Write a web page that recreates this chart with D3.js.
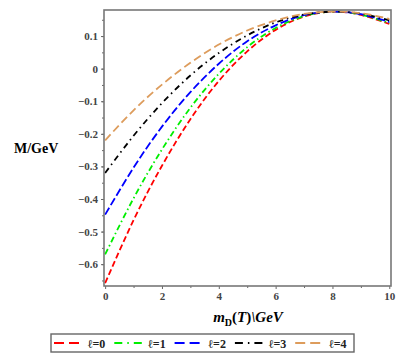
<!DOCTYPE html>
<html>
<head>
<meta charset="utf-8">
<style>
body { margin: 0; background: #fff; }
svg { display: block; }
.tick text { font-family: 'Liberation Serif', serif; font-size: 11px; fill: #444; font-weight: bold; }
.tick line { stroke: #666; }
.domain { display: none; }
</style>
</head>
<body>
<svg></svg>
<script src="https://d3js.org/d3.v7.min.js"></script>
<script>

const xValues = [0, 1, 2, 3, 4, 5, 6, 7, 8, 9, 10];
const seriesNames = ['ℓ=0', 'ℓ=1', 'ℓ=2', 'ℓ=3', 'ℓ=4'];
const l0 = [-0.658, -0.465, -0.298, -0.155, -0.038, 0.053, 0.119, 0.160, 0.175, 0.165, 0.137];
const l1 = [-0.570, -0.398, -0.248, -0.120, -0.016, 0.066, 0.125, 0.161, 0.175, 0.166, 0.140];
const l2 = [-0.448, -0.304, -0.178, -0.072, 0.015, 0.084, 0.133, 0.164, 0.175, 0.167, 0.143];
const l3 = [-0.320, -0.206, -0.106, -0.021, 0.048, 0.102, 0.142, 0.166, 0.175, 0.169, 0.148];
const l4 = [-0.220, -0.128, -0.049, 0.018, 0.074, 0.117, 0.148, 0.168, 0.175, 0.170, 0.153];
const xTicks = [0, 2, 4, 6, 8, 10];
const yTicks = [-0.6, -0.5, -0.4, -0.3, -0.2, -0.1, 0, 0.1];

const colors = ['#ff0000', '#00ee00', '#0000ff', '#000000', '#dd9c5c'];
const dashes = ['6,3', '6,3,1.5,3', '8,3', '6,4,1.5,4', '8,4'];

const width = 415, height = 363;
const svg = d3.select('svg').attr('width', width).attr('height', height);

const pLeft = 104, pRight = 391, pTop = 10, pBottom = 286;

const x = d3.scaleLinear().domain([-0.04, 10.06]).range([pLeft, pRight]);
const y = d3.scaleLinear().domain([-0.667, 0.18]).range([pBottom, pTop]);

// minor ticks first
svg.append('g')
    .attr('transform', `translate(${pLeft},0)`)
    .call(d3.axisLeft(y).tickValues(d3.range(-0.65, 0.16, 0.05)).tickSize(2).tickFormat(''));
svg.append('g')
    .attr('transform', `translate(0,${pBottom})`)
    .call(d3.axisBottom(x).tickValues(d3.range(1, 10, 2)).tickSize(2).tickFormat(''));

svg.append('g')
    .attr('transform', `translate(${pLeft},0)`)
    .call(d3.axisLeft(y).tickValues(yTicks).tickSize(3).tickPadding(3)
        .tickFormat(d => d === 0 ? '0' : d3.format('.1f')(d)));
svg.append('g')
    .attr('transform', `translate(0,${pBottom})`)
    .call(d3.axisBottom(x).tickValues(xTicks).tickSize(3).tickPadding(3));

const series = [l0, l1, l2, l3, l4];
const line = d3.line()
    .x((d, i) => x(xValues[i]))
    .y(d => y(d))
    .curve(d3.curveNatural);

svg.append('g').selectAll('path').data(series).join('path')
    .attr('fill', 'none')
    .attr('stroke', (d, i) => colors[i])
    .attr('stroke-width', 1.8)
    .attr('stroke-dasharray', (d, i) => dashes[i])
    .attr('d', line);

svg.append('rect')
    .attr('x', pLeft).attr('y', pTop)
    .attr('width', pRight - pLeft).attr('height', pBottom - pTop)
    .attr('fill', 'none').attr('stroke', '#777').attr('stroke-width', 1.6);

// axis titles
svg.append('text')
    .attr('x', 14).attr('y', 153)
    .style('font-family', 'Liberation Serif, serif')
    .style('font-weight', 'bold').style('font-size', '14px')
    .text('M/GeV');

const xt = svg.append('text')
    .attr('x', 248).attr('y', 322)
    .attr('text-anchor', 'middle')
    .style('font-family', 'Liberation Serif, serif')
    .style('font-weight', 'bold').style('font-size', '15px');
xt.append('tspan').style('font-style', 'italic').text('m');
xt.append('tspan').attr('dy', 4).style('font-size', '10px').text('D');
xt.append('tspan').attr('dy', -4).text('(');
xt.append('tspan').style('font-style', 'italic').text('T');
xt.append('tspan').text(')');
xt.append('tspan').style('font-style', 'italic').text('\\GeV');

// legend
const lg = svg.append('g');
lg.append('rect')
    .attr('x', 51).attr('y', 334).attr('width', 303).attr('height', 18)
    .attr('fill', 'none').attr('stroke', '#666').attr('stroke-width', 1.4);
const item = lg.selectAll('g.item').data(seriesNames).join('g')
    .attr('class', 'item')
    .attr('transform', (d, i) => `translate(${54 + i * 60.3},343)`);
item.append('line')
    .attr('x1', 0).attr('x2', 29)
    .attr('stroke', (d, i) => colors[i])
    .attr('stroke-width', 1.8)
    .attr('stroke-dasharray', (d, i) => i === 0 || i === 2 || i === 4 ? '10,5' : '8,5,1.5,5');
item.append('text')
    .attr('x', 34).attr('y', 4.5)
    .style('font-family', 'Liberation Serif, serif')
    .style('font-weight', 'bold').style('font-size', '12px')
    .style('fill', '#222')
    .text(d => d);

</script>
</body>
</html>
